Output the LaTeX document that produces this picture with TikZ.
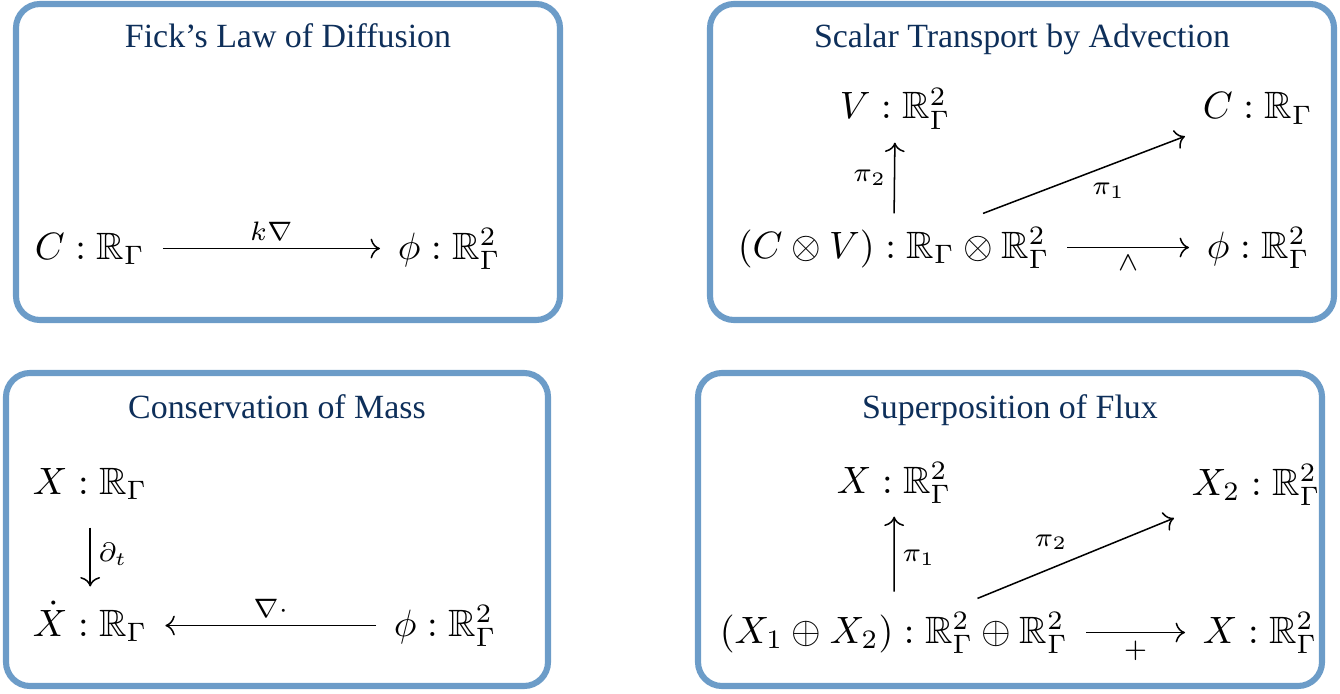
\documentclass[tikz,border=0pt]{standalone}
\usepackage{amsmath}
\usepackage{amssymb}
\usepackage{fontspec}
\newfontfamily\titlefont{Liberation Serif}
\usetikzlibrary{arrows.meta}
\definecolor{panelblue}{RGB}{108,156,200}
\definecolor{titlenavy}{RGB}{14,47,90}

\begin{document}
\begin{tikzpicture}[
        x=0.2625pt, y=-0.2625pt,
        panel/.style={draw=panelblue, line width=1.6pt, rounded corners=6.3pt},
        title/.style={font=\titlefont\fontsize{8.9}{10}\selectfont, text=titlenavy, anchor=base},
        obj/.style={anchor=base west, inner xsep=4.5pt, inner ysep=2.5pt, text height=9pt, text depth=3.5pt},
        arrow/.style={-{Computer Modern Rightarrow}, line width=0.4pt},
        lbl/.style={font=\scriptsize, inner sep=2pt}
        ]
        \useasboundingbox (0,0) rectangle (1340,693);

        % panels
        \draw[panel] (16,4) rectangle (560,320);
        \draw[panel] (710,4) rectangle (1334,320);
        \draw[panel] (6,373) rectangle (548,686);
        \draw[panel] (698,373) rectangle (1322,686);

        \node[title] (fick) at (288,48) {Fick’s Law of Diffusion};
        \node[title] (advect) at (1022,48) {Scalar Transport by Advection};
        \node[title] (mass) at (277,418) {Conservation of Mass};
        \node[title] (superpos) at (1010,418) {Superposition of Flux};

        % Fick
        \node[obj] (c1) at (17,259) {$C : \mathbb{R}_\Gamma$};
        \node[obj] (phi1) at (380,259) {$\phi : \mathbb{R}^2_\Gamma$};
        \draw[arrow] (c1) -- node[lbl, above] {$k\nabla$} (phi1);

        % advection
        \node[obj] (v2) at (822,119) {$V : \mathbb{R}^2_\Gamma$};
        \node[obj] (c2) at (1185,119) {$C : \mathbb{R}_\Gamma$};
        \node[obj] (cv2) at (720,258) {$(C \otimes V) : \mathbb{R}_\Gamma \otimes \mathbb{R}^2_\Gamma$};
        \node[obj] (phi2) at (1189,258) {$\phi : \mathbb{R}^2_\Gamma$};
        \draw[arrow] (cv2) -- node[lbl, left] {$\pi_2$} (v2);
        \draw[arrow] (cv2) -- node[lbl, below right] {$\pi_1$} (c2);
        \draw[arrow] (cv2) -- node[lbl, below] {$\wedge$} (phi2);

        % mass
        \node[obj] (x3) at (15,494) {$X : \mathbb{R}_\Gamma$};
        \node[obj] (xd3) at (15,636) {$\dot{X} : \mathbb{R}_\Gamma$};
        \node[obj] (phi3) at (376,636) {$\phi : \mathbb{R}^2_\Gamma$};
        \draw[arrow, shorten <=2.6pt, shorten >=1.3pt] (x3) -- node[lbl, right] {$\partial_t$} (xd3);
        \draw[arrow] (phi3) -- node[lbl, above] {$\nabla\cdot$} (xd3);

        % superposition
        \node[obj] (x4) at (819,493) {$X : \mathbb{R}^2_\Gamma$};
        \node[obj] (x24) at (1174,495) {$X_2 : \mathbb{R}^2_\Gamma$};
        \node[obj] (x124) at (702,643) {$(X_1 \oplus X_2) : \mathbb{R}^2_\Gamma \oplus \mathbb{R}^2_\Gamma$};
        \node[obj] (xs4) at (1185,643) {$X : \mathbb{R}^2_\Gamma$};
        \draw[arrow, shorten <=1.8pt] (x124) -- node[lbl, right] {$\pi_1$} (x4);
        \draw[arrow] (x124) -- node[lbl, above left] {$\pi_2$} (x24);
        \draw[arrow] (x124) -- node[lbl, below] {$+$} (xs4);
    \end{tikzpicture}
\end{document}
